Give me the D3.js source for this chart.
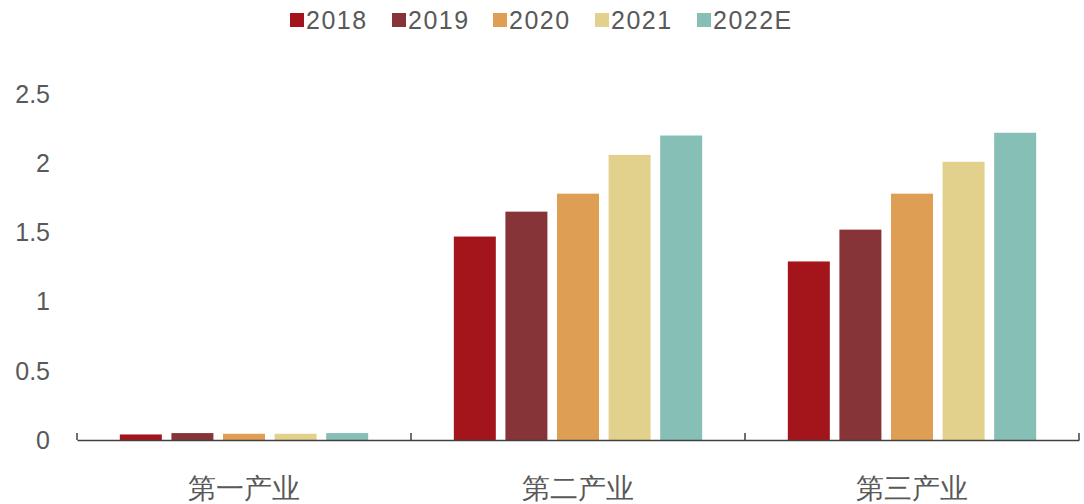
<!DOCTYPE html>
<html>
<head>
<meta charset="utf-8">
<script src="https://cdn.jsdelivr.net/npm/d3@7"></script>
<style>
  body { margin: 0; background: #fff; }
  text { font-family: "Liberation Sans", Arial, sans-serif; fill: #595959; }
</style>
</head>
<body>
<svg id="chart" width="1084" height="504"></svg>
<script>
// data
const categories = ["第一产业", "第二产业", "第三产业"];
const seriesNames = ["2018", "2019", "2020", "2021", "2022E"];
const values2018 = [0.04, 1.47, 1.29];
const values2019 = [0.05, 1.65, 1.52];
const values2020 = [0.045, 1.78, 1.78];
const values2021 = [0.045, 2.06, 2.01];
const values2022E = [0.05, 2.2, 2.22];
const yTicks = [0, 0.5, 1, 1.5, 2, 2.5];
const colors = ["#A3141B", "#873438", "#DE9F55", "#E1D18C", "#86BFB5"];

const seriesValues = [values2018, values2019, values2020, values2021, values2022E];

// layout
const plotLeft = 77, plotRight = 1079, plotTop = 94, plotBottom = 440;

const svg = d3.select("#chart");

const x = d3.scaleBand()
    .domain(categories)
    .range([plotLeft, plotRight])
    .padding(0);

const xInner = d3.scaleBand()
    .domain(seriesNames)
    .range([0, x.bandwidth()])
    .paddingInner(0.186)
    .paddingOuter(0.83);

const y = d3.scaleLinear()
    .domain([0, 2.5])
    .range([plotBottom, plotTop]);

// y labels (no axis line in the original)
svg.append("g")
    .selectAll("text")
    .data(yTicks)
    .join("text")
    .attr("x", 50)
    .attr("y", d => y(d))
    .attr("dy", "0.35em")
    .attr("text-anchor", "end")
    .attr("font-size", 25)
    .text(d => d);

// bars
const groups = svg.append("g")
    .selectAll("g")
    .data(categories)
    .join("g")
    .attr("transform", d => `translate(${x(d)},0)`);

groups.selectAll("rect")
    .data((d, i) => seriesNames.map((s, j) => ({ series: s, value: seriesValues[j][i], color: colors[j] })))
    .join("rect")
    .attr("x", d => xInner(d.series))
    .attr("y", d => y(d.value))
    .attr("width", xInner.bandwidth())
    .attr("height", d => plotBottom - y(d.value))
    .attr("fill", d => d.color);

// x axis with inward ticks
const xAxis = d3.axisBottom(x).tickSize(0).tickPadding(38);
const axisG = svg.append("g")
    .attr("transform", `translate(0,${plotBottom})`)
    .call(xAxis);
axisG.select(".domain").attr("stroke", "#404040").attr("stroke-width", 1.5);
axisG.selectAll(".tick text")
    .attr("font-size", 28)
    .attr("font-family", "'Noto Sans CJK SC', sans-serif")
    .attr("fill", "#595959");
const boundaries = [plotLeft, ...categories.slice(1).map(c => x(c)), plotRight];
axisG.selectAll(".bound")
    .data(boundaries)
    .join("line")
    .attr("class", "bound")
    .attr("x1", d => d).attr("x2", d => d)
    .attr("y1", 0).attr("y2", -7)
    .attr("stroke", "#404040")
    .attr("stroke-width", 1.5);

// legend
const legendX = [290, 392, 493, 595, 697];
const legend = svg.append("g")
    .selectAll("g")
    .data(seriesNames)
    .join("g")
    .attr("transform", (d, i) => `translate(${legendX[i]},20)`);
legend.append("rect")
    .attr("x", 0).attr("y", -7)
    .attr("width", 14).attr("height", 14)
    .attr("fill", (d, i) => colors[i]);
legend.append("text")
    .attr("x", 16)
    .attr("dy", "0.35em")
    .attr("font-size", 25)
    .attr("letter-spacing", 1.5)
    .text(d => d);
</script>
</body>
</html>
